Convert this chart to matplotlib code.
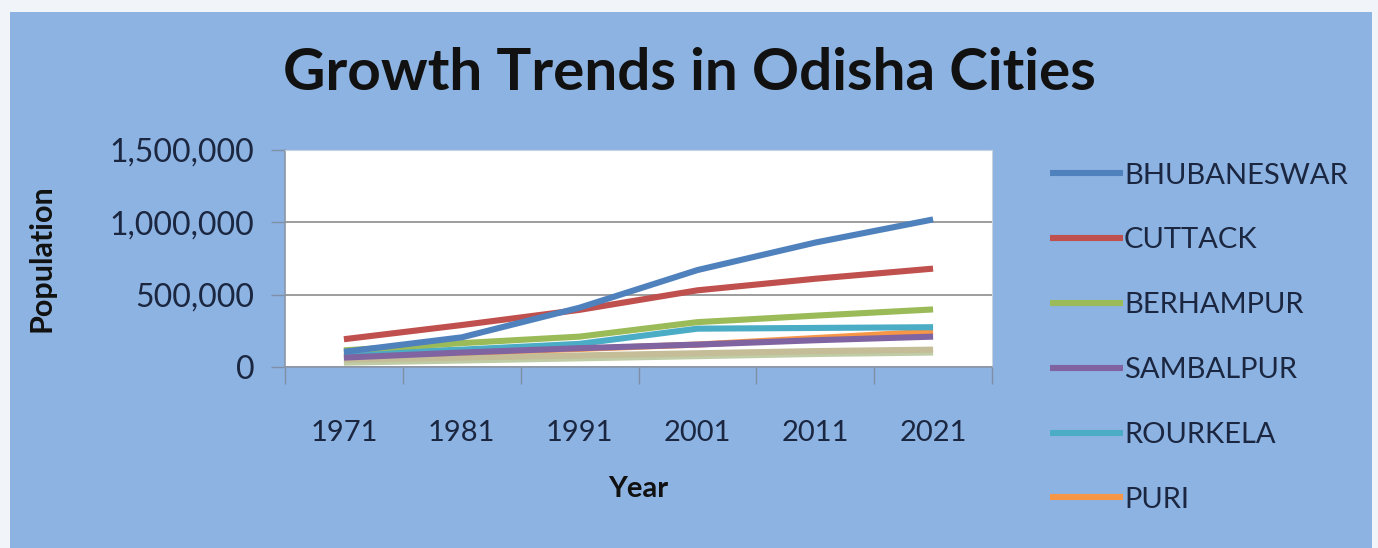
import numpy as np
import matplotlib
matplotlib.use('Agg')
from matplotlib import pyplot as plt
from matplotlib.patches import Rectangle
from matplotlib.ticker import FuncFormatter, FixedLocator

# data
years = ['1971', '1981', '1991', '2001', '2011', '2021']

bhubaneswar = [105000, 205000, 410000, 670000, 860000, 1020000]
cuttack     = [192000, 290000, 395000, 530000, 610000, 680000]
berhampur   = [115000, 165000, 210000, 310000, 355000, 398000]
sambalpur   = [65000, 100000, 130000, 155000, 185000, 210000]
rourkela    = [90000, 120000, 160000, 265000, 270000, 275000]
puri        = [75000, 100000, 125000, 155000, 200000, 245000]
# two more towns drawn in the plot but not listed in the legend
other_a     = [50000, 65000, 80000, 95000, 110000, 120000]
other_b     = [30000, 45000, 60000, 75000, 90000, 100000]

series = [('BHUBANESWAR', bhubaneswar, '#4F81BD'),
          ('CUTTACK',     cuttack,     '#C0504D'),
          ('BERHAMPUR',   berhampur,   '#9BBB59'),
          ('SAMBALPUR',   sambalpur,   '#8064A2'),
          ('ROURKELA',    rourkela,    '#4BACC6'),
          ('PURI',        puri,        '#F79646'),
          ('_a',          other_a,     '#C4BD97'),
          ('_b',          other_b,     '#BFCCA6')]

# style
plt.rcParams['font.family'] = ['Lato', 'DejaVu Sans']
txt = '#1B2640'
bg  = '#8DB3E2'

fig = plt.figure(figsize=(13.78, 5.48), dpi=100, facecolor='#F1F5F9')
fig.patches.append(Rectangle((10/1378, 0), 1362/1378, 536/548,
                             transform=fig.transFigure, facecolor=bg,
                             edgecolor='none', zorder=-10))

ax = fig.add_axes([285/1378, 1-367/548, 707/1378, 217/548])
ax.set_facecolor('#FFFFFF')

x = np.arange(len(years))
for name, vals, col in series[::-1]:
    ax.plot(x, vals, '-', color=col, lw=4.4, solid_capstyle='butt',
            label=name)

# axes
ax.set_xlim(-0.5, len(years)-0.5)
ax.set_ylim(0, 1500000)
ax.yaxis.set_major_locator(FixedLocator([0, 500000, 1000000, 1500000]))
ax.yaxis.set_major_formatter(FuncFormatter(lambda v, p: '{:,.0f}'.format(v)))
ax.grid(axis='y', color='#8C8C8C', lw=1.2)
ax.set_axisbelow(True)

ax.set_xticks(np.arange(len(years)+1)-0.5)
ax.set_xticklabels([])
ax.set_xticks(x, minor=True)
ax.set_xticklabels(years, minor=True)
ax.tick_params(axis='x', which='major', direction='out', length=12,
               color='#7F8FA6', width=1)
ax.tick_params(axis='x', which='minor', length=0, pad=38,
               labelsize=21, labelcolor=txt)
ax.tick_params(axis='y', direction='out', length=10, color='#7F8FA6',
               width=1, pad=12, labelsize=23, labelcolor=txt)

for s in ['top', 'right']:
    ax.spines[s].set_color('#C8D3E0')
for s in ['left', 'bottom']:
    ax.spines[s].set_color('#8A96A8')
    ax.spines[s].set_linewidth(1.2)

ax.set_xlabel('Year', fontsize=21, fontweight='bold', color='#111111',
              labelpad=22)
ax.set_ylabel('Population', fontsize=22, fontweight='bold', color='#111111')
ax.yaxis.set_label_coords(-0.325, 0.5)

fig.text(0.5, 1-73/548, 'Growth Trends in Odisha Cities', ha='center',
         va='center', fontsize=42, fontweight='bold', color='#111111')

# legend
hh, ll = ax.get_legend_handles_labels()
hh, ll = hh[::-1], ll[::-1]
keep = [i for i, l in enumerate(ll) if not l.startswith('_')]
leg = fig.legend([hh[i] for i in keep], [ll[i] for i in keep],
                 loc='upper left', bbox_to_anchor=(1038/1378, 1-151/548),
                 frameon=False, fontsize=21, handlelength=2.5,
                 handletextpad=0.05, labelspacing=1.33, borderaxespad=0)
for t in leg.get_texts():
    t.set_color(txt)

fig.savefig('out.png', dpi=100, facecolor=fig.get_facecolor())
